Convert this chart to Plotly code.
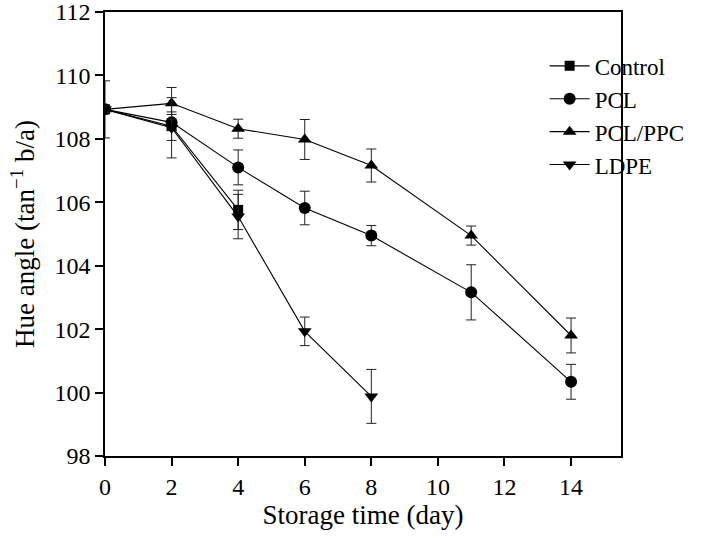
import plotly.graph_objects as go

days_control = [0, 2, 4]
control = [108.93, 108.40, 105.76]
control_err = [0.9, 0.45, 0.62]

days_pcl = [0, 2, 4, 6, 8, 11, 14]
pcl = [108.93, 108.52, 107.10, 105.82, 104.95, 103.16, 100.34]
pcl_err = [0.1, 0.25, 0.55, 0.53, 0.32, 0.87, 0.55]

days_ppc = [0, 2, 4, 6, 8, 11, 14]
pclppc = [108.93, 109.12, 108.32, 107.98, 107.16, 104.95, 101.80]
pclppc_err = [0.1, 0.5, 0.3, 0.63, 0.52, 0.3, 0.55]

days_ldpe = [0, 2, 4, 6, 8]
ldpe = [108.93, 108.35, 105.55, 101.93, 99.88]
ldpe_err = [0.1, 0.95, 0.7, 0.45, 0.85]

names = ["Control", "PCL", "PCL/PPC", "LDPE"]
symbols = ["square", "circle", "triangle-up", "triangle-down"]
sizes = [10, 12, 12, 12]

series = [
    (days_control, control, control_err),
    (days_pcl, pcl, pcl_err),
    (days_ppc, pclppc, pclppc_err),
    (days_ldpe, ldpe, ldpe_err),
]

fig = go.Figure()
for (x, y, e), n, s, sz in zip(series, names, symbols, sizes):
    fig.add_trace(go.Scatter(
        x=x, y=y, name=n, mode="lines+markers",
        line=dict(color="black", width=1.1),
        marker=dict(symbol=s, size=sz, color="black"),
        error_y=dict(type="data", array=e, visible=True, color="#222222",
                     thickness=1, width=5),
    ))

font_family = "Liberation Serif"
axis_common = dict(
    showline=True, linecolor="black", linewidth=1.5, mirror=True,
    ticks="outside", ticklen=8, tickwidth=1.5, tickcolor="black",
    showgrid=False, zeroline=False, automargin=False, ticklabeloverflow="allow",
    tickfont=dict(size=24, family=font_family, color="black"),
)
fig.update_layout(
    width=709, height=538,
    margin=dict(l=105, r=88, t=12, b=82),
    plot_bgcolor="white", paper_bgcolor="white",
    font=dict(family=font_family, color="black", size=23),
    showlegend=True,
    legend=dict(x=0.852, y=0.927, xanchor="left", yanchor="top",
                bgcolor="rgba(0,0,0,0)", font=dict(size=23, family=font_family, color="black"),
                itemwidth=40, tracegroupgap=0),
    xaxis=dict(range=[0, 15.5], tickvals=[0, 2, 4, 6, 8, 10, 12, 14],
               title=dict(text="Storage time (day)", font=dict(size=27, family=font_family, color="black"), standoff=6),
               **axis_common),
    yaxis=dict(range=[98, 112], tickvals=[98, 100, 102, 104, 106, 108, 110, 112],
               title=dict(text="Hue angle (tan<sup>\u22121</sup> b/a)", font=dict(size=27, family=font_family, color="black"), standoff=12),
               **axis_common),
)

fig.write_html("out.html", config={"displayModeBar": False},
               post_script="document.body.style.margin='0px';")
